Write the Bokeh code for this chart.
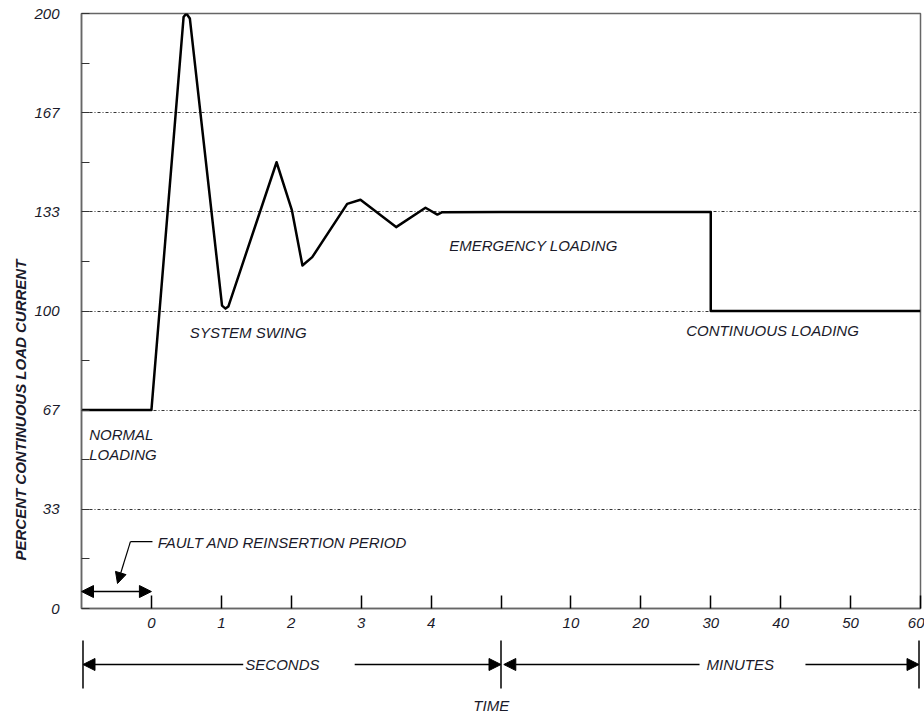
import math
from bokeh.plotting import figure
from bokeh.models import (Range1d, FixedTicker, CustomJSTickFormatter, Label,
                          Arrow, NormalHead, Title)
from bokeh.layouts import column
from bokeh.embed import file_html
from bokeh.resources import INLINE

# ---------------- data ----------------
# seconds part of the time axis (-1 .. 5 s)
seconds_t = [-1.0, 0.0, 0.46, 0.50, 0.55, 1.01, 1.06, 1.10, 1.79, 2.01,
             2.16, 2.30, 2.80, 2.99, 3.50, 3.92, 4.09, 4.16, 5.0]
seconds_pct = [66.7, 66.7, 198.8, 200.0, 198.3, 101.8, 100.8, 101.5, 150.0,
               133.8, 115.3, 118.1, 136.0, 137.4, 128.2, 134.7, 132.4,
               133.2, 133.3]
# minutes part of the time axis (0 .. 60 min)
minutes_t = [0, 30, 30, 60]
minutes_pct = [133.3, 133.3, 100.0, 100.0]

y_ticks = [0, 200 / 6, 400 / 6, 100, 800 / 6, 1000 / 6, 200]
y_minor = [100 / 6, 50, 500 / 6, 700 / 6, 150, 1100 / 6]
sec_ticks = [0, 1, 2, 3, 4, 5]
sec_labels = ["0", "1", "2", "3", "4", ""]
min_ticks = [10, 20, 30, 40, 50, 60]
min_labels = ["10", "20", "30", "40", "50", "60"]

texts = ["SYSTEM SWING", "NORMAL", "LOADING", "EMERGENCY LOADING",
         "CONTINUOUS LOADING", "FAULT AND REINSERTION PERIOD"]
y_title = "PERCENT CONTINUOUS LOAD CURRENT"


def sec_to_axis(s):
    return s + 1.0


def min_to_axis(m):
    return 6.0 + m / 10.0


# ---------------- layout constants ----------------
W = 924
LEFT, RIGHT, TOP, BOTTOM = 81, 4, 13, 28
FRAME_H = 595
MAIN_H = TOP + FRAME_H + BOTTOM
STRIP_H = 713 - MAIN_H
PPU = (W - LEFT - RIGHT) / 12.0
TXT = "#1a1a2a"
FONT = "Liberation Sans"
FS = "15px"

p = figure(width=W, height=MAIN_H, x_range=Range1d(0, 12), y_range=Range1d(0, 200),
           output_backend="svg", toolbar_location=None,
           min_border_left=LEFT, min_border_right=RIGHT,
           min_border_top=TOP, min_border_bottom=BOTTOM)
p.outline_line_color = "#666666"
p.outline_line_width = 1.5

# curve
xs = [sec_to_axis(s) for s in seconds_t] + [min_to_axis(m) for m in minutes_t]
ys = seconds_pct + minutes_pct
p.line(xs, ys, line_color="black", line_width=2.5, line_join="round")

# axes
xt = [sec_to_axis(s) for s in sec_ticks] + [min_to_axis(m) for m in min_ticks]
p.xaxis.ticker = FixedTicker(ticks=xt, minor_ticks=[])
p.xaxis.major_label_overrides = {int(round(t)): l for t, l in zip(xt, sec_labels + min_labels)}
p.xaxis.major_tick_in = 13
p.xaxis.major_tick_out = 0
p.xaxis.major_tick_line_color = "black"
p.xaxis.major_tick_line_width = 1.5
p.xaxis.major_label_standoff = 9

p.yaxis.ticker = FixedTicker(ticks=y_ticks, minor_ticks=y_minor)
p.yaxis.formatter = CustomJSTickFormatter(code="return Math.round(tick).toString();")
p.yaxis.major_tick_in = 8
p.yaxis.major_tick_out = 0
p.yaxis.minor_tick_in = 8
p.yaxis.minor_tick_out = 0
p.yaxis.major_tick_line_color = "#333333"
p.yaxis.minor_tick_line_color = "#333333"
p.yaxis.major_label_standoff = 22

for ax in (p.xaxis, p.yaxis):
    ax.axis_line_color = "#666666"
    ax.axis_line_width = 1.5
    ax.major_label_text_font = FONT
    ax.major_label_text_font_style = "italic"
    ax.major_label_text_font_size = FS
    ax.major_label_text_color = TXT

p.xgrid.visible = False
p.ygrid.ticker = FixedTicker(ticks=y_ticks[1:-1])
p.ygrid.grid_line_color = "#333333"
p.ygrid.grid_line_dash = "3 2 1 2"
p.ygrid.grid_line_width = 1

# y title placed in the left panel, shifted down like the original
p.add_layout(Title(text=y_title, align="left", offset=48, text_font=FONT,
                   text_font_style="bold italic", text_font_size=FS,
                   text_color=TXT, standoff=6), "left")


def lab(fig, x, y, text, align="left", size=FS, style="italic"):
    fig.add_layout(Label(x=x, y=y, text=text, text_align=align, text_baseline="middle",
                         text_font=FONT, text_font_style=style, text_font_size=size,
                         text_color=TXT))


lab(p, 1.55, 92.8, texts[0])
lab(p, 0.11, 58.5, texts[1])
lab(p, 0.11, 51.8, texts[2])
lab(p, 5.26, 122.0, texts[3])
lab(p, 8.65, 93.4, texts[4])
lab(p, 1.09, 22.3, texts[5])

# fault period double arrow and leader
head = dict(fill_color="black", line_color="black")
p.add_layout(Arrow(x_start=sec_to_axis(-1), y_start=5.7, x_end=sec_to_axis(0), y_end=5.7,
                   line_width=1.5, start=NormalHead(size=12, **head),
                   end=NormalHead(size=12, **head)))
p.add_layout(Arrow(x_start=1.015, y_start=22.5, x_end=0.70, y_end=22.5, line_width=1.2, end=None))
p.add_layout(Arrow(x_start=0.70, y_start=22.5, x_end=0.515, y_end=8.4, line_width=1.2,
                   end=NormalHead(size=11, **head)))

# ---------------- lower strip (SECONDS / MINUTES / TIME) ----------------
pad = 1.5 / PPU
s = figure(width=W, height=STRIP_H,
           x_range=Range1d(-pad, 12 + pad), y_range=Range1d(0, STRIP_H),
           output_backend="svg", toolbar_location=None, min_border=0,
           min_border_left=LEFT, min_border_right=RIGHT,
           x_axis_type=None, y_axis_type=None)
s.outline_line_color = None
s.grid.visible = False

bounds = [sec_to_axis(-1), sec_to_axis(5), min_to_axis(60)]
s.segment(x0=bounds, y0=[25] * 3, x1=bounds, y1=[73] * 3, line_color="black", line_width=1.5)

ay = 49
for xs_, xe_ in [(2.30, bounds[0]), (3.90, bounds[1]), (8.85, bounds[1] + 0.04), (10.37, bounds[2])]:
    s.add_layout(Arrow(x_start=xs_, y_start=ay, x_end=xe_, y_end=ay, line_width=1.5,
                       end=NormalHead(size=12, **head)))

lab(s, 2.33, ay, "SECONDS")
lab(s, 8.95, ay, "MINUTES")
lab(s, 5.86, 8, "TIME", align="center")

layout = column(p, s, spacing=0)
open("out.html", "w").write(file_html(layout, INLINE))
